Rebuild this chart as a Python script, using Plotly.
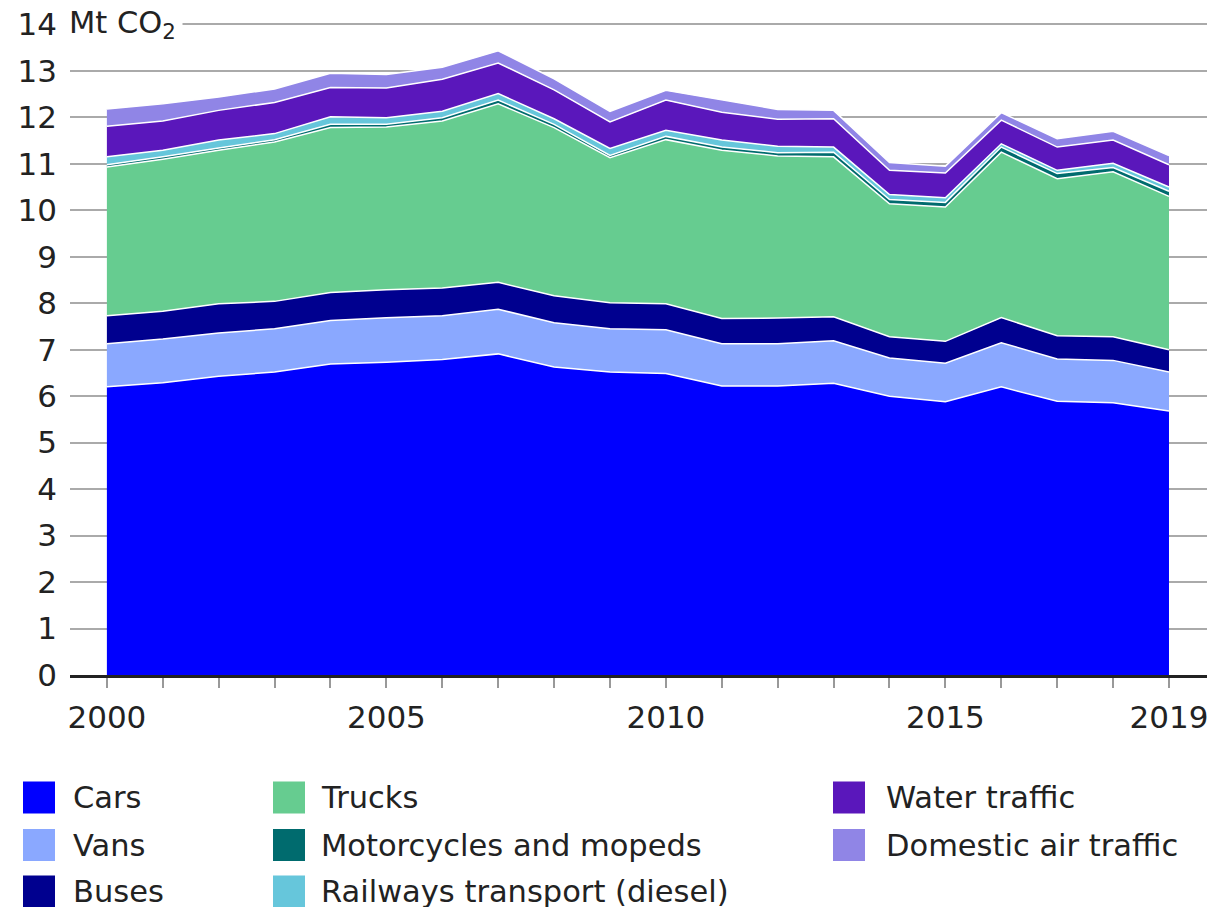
import plotly.graph_objects as go

years = list(range(2000, 2020))

cars = [6.20, 6.29, 6.43, 6.52, 6.69, 6.73, 6.79, 6.91, 6.63, 6.52, 6.49, 6.22, 6.22, 6.28, 6.00, 5.88, 6.20, 5.89, 5.86, 5.68]
vans = [0.93, 0.94, 0.93, 0.93, 0.94, 0.96, 0.94, 0.96, 0.95, 0.93, 0.94, 0.91, 0.91, 0.91, 0.82, 0.83, 0.95, 0.91, 0.91, 0.84]
buses = [0.60, 0.60, 0.63, 0.59, 0.60, 0.60, 0.60, 0.58, 0.58, 0.56, 0.56, 0.54, 0.55, 0.52, 0.46, 0.47, 0.54, 0.50, 0.51, 0.48]
trucks = [3.20, 3.27, 3.30, 3.43, 3.55, 3.50, 3.59, 3.84, 3.62, 3.12, 3.53, 3.62, 3.49, 3.44, 2.86, 2.89, 3.56, 3.38, 3.55, 3.30]
motorcycles = [0.05, 0.05, 0.05, 0.05, 0.07, 0.06, 0.07, 0.08, 0.07, 0.05, 0.07, 0.07, 0.07, 0.10, 0.09, 0.10, 0.11, 0.11, 0.09, 0.11]
railways = [0.17, 0.14, 0.17, 0.13, 0.16, 0.14, 0.14, 0.14, 0.12, 0.15, 0.13, 0.15, 0.14, 0.11, 0.11, 0.10, 0.07, 0.07, 0.09, 0.09]
water = [0.66, 0.63, 0.64, 0.67, 0.63, 0.64, 0.69, 0.66, 0.62, 0.57, 0.65, 0.60, 0.58, 0.61, 0.52, 0.53, 0.51, 0.50, 0.50, 0.48]
air = [0.37, 0.37, 0.29, 0.29, 0.31, 0.29, 0.26, 0.26, 0.24, 0.23, 0.21, 0.27, 0.21, 0.18, 0.17, 0.15, 0.16, 0.18, 0.19, 0.20]

series_names = ["Cars", "Vans", "Buses", "Trucks", "Motorcycles and mopeds",
                "Railways transport (diesel)", "Water traffic", "Domestic air traffic"]
series_values = [cars, vans, buses, trucks, motorcycles, railways, water, air]
series_colors = ["#0000FF", "#8AA8FF", "#00008F", "#66CC90", "#006B6E",
                 "#66C6DB", "#5A17BB", "#9085E6"]

x_label_years = [2000, 2005, 2010, 2015, 2019]
y_ticks = list(range(0, 15))
unit_label = "Mt CO<sub>2</sub>"

FONT = "DejaVu Sans"
TXT = "#222222"
TICK_SIZE = 31
LEG_SIZE = 30.5

W, H = 1230, 907
OFF = 8  # page body margin
ML, MR, MT, MB = 62, 31, 15, 240
PW = W - ML - MR
PH = H - MT - MB


def xp(px):
    return (px - OFF - ML) / PW


def yp(py):
    return (H - MB - (py - OFF)) / PH


fig = go.Figure()
for name, vals, col in zip(series_names, series_values, series_colors):
    fig.add_trace(go.Scatter(
        x=years, y=vals, name=name, mode="lines", stackgroup="one",
        line=dict(color="white", width=1.5), fillcolor=col,
        showlegend=False, hoverinfo="x+y+name",
    ))

# manual legend (viewport pixel targets)
legend_cols = [(23, 71), (273, 319), (833, 884)]
legend_rows = [797.5, 845, 891.5]
legend_layout = [
    (0, 0, 0), (1, 0, 1), (2, 0, 2),
    (3, 1, 0), (4, 1, 1), (5, 1, 2),
    (6, 2, 0), (7, 2, 1),
]
shapes = []
annotations = []
for idx, c, r in legend_layout:
    bx, tx = legend_cols[c]
    cy = legend_rows[r]
    shapes.append(dict(type="rect", xref="paper", yref="paper",
                       x0=xp(bx), x1=xp(bx + 32), y0=yp(cy + 16), y1=yp(cy - 16),
                       fillcolor=series_colors[idx], line=dict(width=0)))
    annotations.append(dict(xref="paper", yref="paper", x=xp(tx), y=yp(cy),
                            xanchor="left", yanchor="middle", showarrow=False,
                            text=series_names[idx],
                            font=dict(family=FONT, size=LEG_SIZE, color=TXT)))

annotations.append(dict(xref="paper", yref="y", x=xp(62), y=14, xanchor="left",
                        yanchor="middle", showarrow=False, text=unit_label,
                        bgcolor="white", borderpad=6,
                        font=dict(family=FONT, size=LEG_SIZE, color=TXT)))

fig.update_layout(
    template="none",
    width=W, height=H,
    margin=dict(l=ML, r=MR, t=MT, b=MB, autoexpand=False),
    paper_bgcolor="white", plot_bgcolor="white",
    font=dict(family=FONT, size=TICK_SIZE, color=TXT),
    showlegend=False,
    shapes=shapes,
    annotations=annotations,
    xaxis=dict(
        range=[1999.34, 2019.68],
        tickvals=x_label_years,
        ticktext=[str(y) for y in x_label_years],
        ticks="outside", ticklen=10, tickwidth=1.5, tickcolor="#999999",
        minor=dict(dtick=1, tick0=2000, ticks="outside", ticklen=10,
                   tickwidth=1.5, tickcolor="#999999", showgrid=False),
        showgrid=False, zeroline=False,
        showline=True, linecolor="#222222", linewidth=2.5,
        tickfont=dict(family=FONT, size=TICK_SIZE, color=TXT),
        ticklabelstandoff=3,
        ticklabeloverflow="allow",
        automargin=False,
        fixedrange=True,
    ),
    yaxis=dict(
        range=[0, 14.03],
        tickvals=y_ticks,
        showgrid=True, gridcolor="#AAAAAA", gridwidth=1.5,
        zeroline=False, showline=False, ticks="",
        tickfont=dict(family=FONT, size=TICK_SIZE, color=TXT),
        ticklabelstandoff=12,
        ticklabeloverflow="allow",
        automargin=False,
        fixedrange=True,
    ),
)

fig.write_html("out.html")
